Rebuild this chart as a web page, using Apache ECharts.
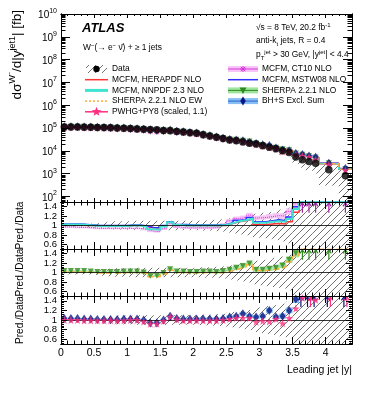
<!DOCTYPE html>
<html>
<head>
<meta charset="utf-8">
<script src="https://cdn.jsdelivr.net/npm/echarts@6/dist/echarts.min.js"></script>
<style>
html,body{margin:0;padding:0;background:#fff}
#main{width:374px;height:396px}
</style>
</head>
<body>
<div id="main"></div>
<script>
// leading jet |y| binning
const binEdges = [0,0.1,0.2,0.3,0.4,0.5,0.6,0.7,0.8,0.9,1.0,1.1,1.2,1.3,1.4,1.5,1.6,1.7,1.8,1.9,
  2.0,2.1,2.2,2.3,2.4,2.5,2.6,2.7,2.8,2.9,3.0,3.1,3.2,3.3,3.4,3.5,3.6,3.7,3.8,3.9,4.2,4.4];

// measured cross section [fb] and its relative total uncertainty
const dataVals = [1.12e5,1.12e5,1.11e5,1.10e5,1.08e5,1.07e5,1.05e5,1.04e5,1.01e5,9.8e4,
  9.5e4,9.2e4,8.9e4,8.7e4,8.4e4,7.9e4,7.6e4,7.1e4,6.7e4,6.3e4,
  5.9e4,5.1e4,4.5e4,4.0e4,3.5e4,3.0e4,2.8e4,2.45e4,2.15e4,2.0e4,
  1.7e4,1.45e4,1.25e4,1.02e4,8.5e3,5.4e3,4.1e3,3.4e3,2.9e3,1.5e3,
  8.1e2];
const dataErr = [0.04,0.04,0.04,0.04,0.04,0.05,0.07,0.08,0.09,0.09,
  0.09,0.1,0.1,0.1,0.1,0.1,0.1,0.1,0.1,0.1,
  0.1,0.11,0.11,0.12,0.13,0.15,0.17,0.19,0.21,0.25,
  0.27,0.29,0.31,0.34,0.38,0.5,0.55,0.6,0.65,0.8,
  1.2];

// Pred./Data ratios
const mcfmHera = [1.01,1.01,1.01,1.00,1.00,0.99,0.99,0.99,0.99,0.99,
  1.00,1.00,0.98,0.95,0.94,0.99,1.07,1.01,1.00,1.00,
  1.00,1.00,1.00,1.00,1.00,1.04,1.08,1.10,1.13,1.02,
  1.02,1.03,1.04,1.03,1.08,1.28,1.60,1.65,1.70,1.80,
  1.90];
const mcfmNnpdf = [1.02,1.02,1.02,1.01,1.00,0.99,0.99,0.99,0.99,0.99,
  1.00,1.00,0.97,0.92,0.91,0.98,1.07,1.01,1.00,1.00,
  1.00,1.00,1.00,1.00,1.01,1.05,1.09,1.11,1.15,1.06,
  1.06,1.08,1.09,1.08,1.14,1.35,1.62,1.68,1.72,1.85,
  1.95];
const mcfmCt10 = [0.97,0.97,0.96,0.96,0.95,0.94,0.94,0.94,0.94,0.94,
  0.94,0.94,0.92,0.88,0.87,0.93,1.04,0.97,0.95,0.95,
  0.95,0.95,0.95,0.96,1.02,1.10,1.15,1.17,1.22,1.16,
  1.17,1.19,1.21,1.20,1.30,1.46,1.75,1.80,1.85,2.00,
  2.10];
const mcfmMstw = [1.03,1.03,1.03,1.02,1.01,1.00,1.00,1.00,1.00,1.00,
  1.01,1.01,0.99,0.96,0.95,1.00,1.08,1.02,1.02,1.01,
  1.01,1.01,1.01,1.01,1.02,1.06,1.11,1.12,1.17,1.08,
  1.08,1.10,1.12,1.10,1.18,1.40,1.65,1.70,1.75,1.90,
  2.00];
const sherpaNlo = [1.03,1.03,1.03,1.03,1.02,1.01,1.01,1.01,1.01,1.02,
  1.02,1.02,1.00,0.93,0.93,0.99,1.07,1.02,1.02,1.01,
  1.01,1.02,1.02,1.01,1.03,1.06,1.10,1.14,1.19,1.06,
  1.06,1.08,1.10,1.15,1.27,1.41,1.65,1.70,1.75,1.90,
  2.00];
const sherpaEw = [1.01,1.01,1.01,1.01,1.00,0.99,0.99,0.99,0.99,1.00,
  1.00,1.00,0.98,0.91,0.91,0.97,1.05,1.00,1.00,0.99,
  0.99,1.00,1.00,0.99,1.01,1.04,1.08,1.12,1.17,1.04,
  1.04,1.06,1.08,1.12,1.23,1.36,1.60,1.65,1.70,1.85,
  1.95];
const bhsSum = [1.03,1.03,1.03,1.02,1.02,1.01,1.01,1.01,1.01,1.02,
  1.02,1.02,1.00,0.94,0.94,1.00,1.08,1.03,1.02,1.02,
  1.02,1.02,1.02,1.02,1.03,1.06,1.08,1.13,1.08,1.06,
  1.08,1.20,1.06,1.08,1.20,1.44,1.70,1.75,1.80,1.90,
  2.10];
const pwhgPy8 = [1.00,1.00,1.00,0.99,0.99,0.99,0.99,0.99,0.99,0.99,
  1.00,1.00,0.97,0.92,0.92,0.98,1.07,1.01,0.99,0.99,
  0.99,0.99,0.99,0.99,1.00,1.02,1.04,1.04,1.04,0.96,
  0.98,0.97,1.02,0.93,1.04,1.24,1.46,1.60,1.42,1.65,
  1.75];
// relative half width of the theory bands
const theoryUnc = [0.02,0.02,0.02,0.02,0.02,0.02,0.02,0.02,0.02,0.02,
  0.02,0.02,0.025,0.025,0.025,0.025,0.025,0.025,0.025,0.025,
  0.03,0.03,0.03,0.03,0.03,0.035,0.035,0.035,0.04,0.04,
  0.04,0.045,0.045,0.05,0.05,0.06,0.06,0.07,0.07,0.08,
  0.09];

const xMajor = [0,0.5,1,1.5,2,2.5,3,3.5,4];
const mainMajor = [2,3,4,5,6,7,8,9,10];
const ratioMajor = [0.6,0.8,1,1.2,1.4];
const ratioLabA = [0.6,1,1.4];
const ratioLabB = [0.8,1.2];

const FONT = '"Liberation Sans", Arial, Helvetica, sans-serif';
const mainMin = 1.76, mainMax = 10;
const rMin = 0.5, rMax = 1.5;
const lg = Math.log10;
const nBins = dataVals.length;
const xMid = [];
for (let i = 0; i < nBins; i++) xMid.push((binEdges[i] + binEdges[i + 1]) / 2);

// minor tick positions
const mainMinor = [];
for (let n = 1; n < 10; n++) for (let k = 2; k < 10; k++) {
  const v = n + lg(k);
  if (v > mainMin && v < mainMax) mainMinor.push(v);
}
const ratioMinor = [];
for (let v = 0.52; v < 1.49; v += 0.04) ratioMinor.push(Math.round(v * 100) / 100);

// hatch pattern for data uncertainty
const hatch = document.createElement('canvas');
hatch.width = 7; hatch.height = 7;
const hc = hatch.getContext('2d');
hc.strokeStyle = '#707070'; hc.lineWidth = 1;
hc.beginPath();
hc.moveTo(-1, 8); hc.lineTo(8, -1);
hc.moveTo(-1, 1); hc.lineTo(1, -1);
hc.moveTo(6, 8); hc.lineTo(8, 6);
hc.stroke();
const hatchFill = {image: hatch, repeat: 'repeat'};

const C = {
  red: '#ff3535', cyan: '#3fe3cf', orange: '#ffac3a', pink: '#ff2f80',
  mag: '#d936d9', magBand: '#f6c4f6', blue: '#2f2fff', green: '#2f8a1e',
  greenBand: '#9fe59f', navy: '#0a1780', blueBand: '#86bff3', arrowMag: '#a323a3'
};
const starPath = 'path://M0,-10L2.35,-3.24L9.51,-3.09L3.8,1.24L5.88,8.09L0,4L-5.88,8.09L-3.8,1.24L-9.51,-3.09L-2.35,-3.24Z';

// ---------- axes ----------
const grids = [
  {left: 61, right: 22, top: 14, height: 188},
  {left: 61, right: 22, top: 202, height: 47},
  {left: 61, right: 22, top: 249, height: 47},
  {left: 61, right: 22, top: 296, height: 48}
];
const tickStyle = {color: '#000', width: 1};
const xAxisList = [], yAxisList = [], axIdx = [];
const xTick = [[4, 2], [7, 3.5], [7, 3.5], [7, 3.5]];
const yTick = [[9, 4.5], [6, 3], [6, 3], [6, 3]];

function axBase(gi, pos, min, max, extra) {
  return Object.assign({type: 'value', gridIndex: gi, position: pos, min: min, max: max, z: 10,
    axisLine: {show: true, onZero: false, lineStyle: {color: '#000', width: 1}},
    splitLine: {show: false}, axisLabel: {show: false}}, extra);
}
function ratioLabel(vals) {
  return {show: true, customValues: vals, margin: 4, showMinLabel: true, showMaxLabel: true,
    fontSize: 9.5, fontFamily: FONT, color: '#000', formatter: v => String(v)};
}

for (let gi = 0; gi < 4; gi++) {
  axIdx[gi] = {x: xAxisList.length, y: yAxisList.length};
  ['bottom', 'top'].forEach(pos => {
    xAxisList.push(axBase(gi, pos, 0, 4.4, {interval: 0.1,
      axisTick: {show: true, inside: true, length: xTick[gi][1], lineStyle: tickStyle}}));
    const lab = (gi === 3 && pos === 'bottom') ? {show: true, customValues: xMajor, margin: 4,
      showMinLabel: true, showMaxLabel: true,
      fontSize: 10.5, fontFamily: FONT, color: '#000', formatter: v => String(v)} : {show: false};
    xAxisList.push(axBase(gi, pos, 0, 4.4, {
      axisTick: {show: true, inside: true, length: xTick[gi][0], customValues: xMajor, lineStyle: tickStyle},
      axisLabel: lab}));
  });
  const isMain = gi === 0;
  const ymin = isMain ? mainMin : rMin, ymax = isMain ? mainMax : rMax;
  const maj = isMain ? mainMajor : ratioMajor, mnr = isMain ? mainMinor : ratioMinor;
  ['left', 'right'].forEach(pos => {
    const left = pos === 'left';
    yAxisList.push(axBase(gi, pos, ymin, ymax, {
      axisTick: {show: true, inside: true, length: yTick[gi][1], customValues: mnr, lineStyle: tickStyle},
      axisLabel: (left && !isMain) ? ratioLabel(ratioLabB) : {show: false}}));
    let lab = {show: false};
    if (left) {
      lab = isMain ? {show: true, customValues: maj, margin: 4, showMinLabel: true, showMaxLabel: true,
        formatter: v => '{b|10}{e|' + Math.round(v) + '}',
        rich: {b: {fontSize: 10, fontFamily: FONT, color: '#000', lineHeight: 13, verticalAlign: 'bottom'},
               e: {fontSize: 7, fontFamily: FONT, color: '#000', lineHeight: 7, verticalAlign: 'top'}}}
        : ratioLabel(ratioLabA);
    }
    yAxisList.push(axBase(gi, pos, ymin, ymax, {
      axisTick: {show: true, inside: true, length: yTick[gi][0], customValues: maj, lineStyle: tickStyle},
      axisLabel: lab}));
  });
}

// ---------- series helpers ----------
function onGrid(g, s) {
  s.xAxisIndex = axIdx[g].x; s.yAxisIndex = axIdx[g].y; s.silent = true; s.animation = false;
  return s;
}
function boxSeries(g, rows, fill, z) {
  return onGrid(g, {type: 'custom', z: z, data: rows,
    renderItem: (params, api) => {
      const a = api.coord([api.value(0), api.value(3)]);
      const b = api.coord([api.value(1), api.value(2)]);
      const cs = params.coordSys;
      const r = echarts.graphic.clipRectByRect(
        {x: a[0], y: a[1], width: b[0] - a[0], height: b[1] - a[1]},
        {x: cs.x, y: cs.y, width: cs.width, height: cs.height});
      if (!r) return null;
      return {type: 'rect', shape: r, style: {fill: fill}};
    }});
}
function hatchRows(main) {
  return dataVals.map((d, i) => {
    const e = dataErr[i];
    if (main) {
      const lo = d * (1 - e);
      return [binEdges[i], binEdges[i + 1], lo > 0 ? Math.max(lg(lo), mainMin) : mainMin, lg(d * (1 + e))];
    }
    return [binEdges[i], binEdges[i + 1], 1 - e, 1 + e];
  });
}
function bandRows(ratio, main) {
  return ratio.map((r, i) => {
    const u = theoryUnc[i];
    if (main) {
      const p = dataVals[i] * r;
      return [binEdges[i], binEdges[i + 1], lg(p * (1 - u)), lg(p * (1 + u))];
    }
    return [binEdges[i], binEdges[i + 1], r - r * u, r + r * u];
  });
}
function stepSeries(g, ratio, main, color, width, dash, z) {
  const pts = [];
  ratio.forEach((r, i) => {
    const v = main ? lg(dataVals[i] * r) : Math.min(r, rMax - 0.005);
    pts.push([binEdges[i], v], [binEdges[i + 1], v]);
  });
  return onGrid(g, {type: 'line', data: pts, z: z, symbol: 'none', showSymbol: false,
    lineStyle: {color: color, width: width, type: dash || 'solid'}});
}
function markerSeries(g, ratio, main, symbol, size, color, z, rot) {
  const pts = [];
  ratio.forEach((r, i) => {
    if (main) pts.push([xMid[i], lg(dataVals[i] * r)]);
    else if (r <= rMax) pts.push([xMid[i], r]);
  });
  return onGrid(g, {type: 'scatter', data: pts, z: z, symbol: symbol, symbolSize: size,
    symbolRotate: rot || 0, itemStyle: {color: color}});
}
function arrowSeries(g, ratio, color, dx, z) {
  const pts = [];
  ratio.forEach((r, i) => { if (r > rMax) pts.push([xMid[i], r]); });
  return onGrid(g, {type: 'custom', z: z, data: pts,
    renderItem: (params, api) => {
      const x = api.value(0);
      const p0 = api.coord([x, 1.27]), p1 = api.coord([x, 1.48]);
      const px = p0[0] + dx;
      return {type: 'group', children: [
        {type: 'line', shape: {x1: px, y1: p0[1], x2: px, y2: p1[1]}, style: {stroke: color, lineWidth: 1.2}},
        {type: 'polyline', shape: {points: [[px - 2.5, p1[1] + 3.5], [px, p1[1]], [px + 2.5, p1[1] + 3.5]]},
         style: {stroke: color, lineWidth: 1.2, fill: null}}
      ]};
    }});
}
function unityLine(s) {
  s.markLine = {silent: true, symbol: 'none', label: {show: false}, animation: false,
    lineStyle: {color: '#000', width: 0.8, type: 'solid'}, data: [{yAxis: 1}]};
  return s;
}

const series = [];
// main panel
series.push(boxSeries(0, hatchRows(true), hatchFill, 1));
series.push(boxSeries(0, bandRows(bhsSum, true), C.blueBand, 2));
series.push(boxSeries(0, bandRows(mcfmCt10, true), C.magBand, 2));
series.push(boxSeries(0, bandRows(sherpaNlo, true), C.greenBand, 2));
series.push(stepSeries(0, mcfmCt10, true, C.mag, 1, null, 3));
series.push(stepSeries(0, mcfmHera, true, C.red, 1.2, null, 3));
series.push(stepSeries(0, mcfmMstw, true, C.blue, 1.2, null, 3));
series.push(stepSeries(0, mcfmNnpdf, true, C.cyan, 1.5, null, 3));
series.push(stepSeries(0, sherpaEw, true, C.orange, 1.2, 'dashed', 3));
series.push(markerSeries(0, sherpaNlo, true, 'triangle', 6, C.green, 4, 180));
series.push(markerSeries(0, bhsSum, true, 'diamond', [6, 9], C.navy, 4));
series.push(markerSeries(0, pwhgPy8, true, starPath, 8, C.pink, 5));
series.push(onGrid(0, {type: 'scatter', z: 6, symbol: 'circle', symbolSize: 7.5,
  itemStyle: {color: '#000'}, data: dataVals.map((d, i) => [xMid[i], lg(d)])}));

// ratio panel 1: MCFM
series.push(unityLine(boxSeries(1, hatchRows(false), hatchFill, 1)));
series.push(boxSeries(1, bandRows(mcfmCt10, false), C.magBand, 2));
series.push(stepSeries(1, mcfmCt10, false, C.mag, 1, 'dotted', 3));
series.push(stepSeries(1, mcfmHera, false, C.red, 1.5, null, 3));
series.push(stepSeries(1, mcfmMstw, false, C.blue, 1.5, null, 3));
series.push(stepSeries(1, mcfmNnpdf, false, C.cyan, 2, null, 3));
series.push(arrowSeries(1, mcfmCt10, C.arrowMag, 0, 4));

// ratio panel 2: SHERPA
series.push(unityLine(boxSeries(2, hatchRows(false), hatchFill, 1)));
series.push(boxSeries(2, bandRows(sherpaNlo, false), C.greenBand, 2));
series.push(stepSeries(2, sherpaEw, false, C.orange, 1.5, 'dashed', 3));
series.push(markerSeries(2, sherpaNlo, false, 'triangle', 6, C.green, 4, 180));
series.push(arrowSeries(2, sherpaNlo, C.green, 0, 4));

// ratio panel 3: BH+S and PWHG+PY8
series.push(unityLine(boxSeries(3, hatchRows(false), hatchFill, 1)));
series.push(boxSeries(3, bandRows(bhsSum, false), C.blueBand, 2));
series.push(markerSeries(3, bhsSum, false, 'diamond', [6, 9], C.navy, 4));
series.push(markerSeries(3, pwhgPy8, false, starPath, 8, C.pink, 5));
series.push(arrowSeries(3, bhsSum, C.navy, -1.5, 4));
series.push(arrowSeries(3, pwhgPy8, C.pink, 1.5, 4));

// ---------- text and legend ----------
const G = [];
const richSet = {
  n: {fontSize: 8.4, fontFamily: FONT, fill: '#000', lineHeight: 12},
  s: {fontSize: 6, fontFamily: FONT, fill: '#000', lineHeight: 6, verticalAlign: 'top'},
  d: {fontSize: 6, fontFamily: FONT, fill: '#000', lineHeight: 6, verticalAlign: 'bottom'}
};
function gText(x, y, text, extra) {
  G.push({type: 'text', x: x, y: y, silent: true, z: 20,
    style: Object.assign({text: text, fill: '#000', fontFamily: FONT, fontSize: 8.4,
      align: 'left', verticalAlign: 'middle', rich: richSet}, extra || {})});
}
function gLine(x1, y1, x2, y2, stroke, w, dash) {
  G.push({type: 'line', silent: true, z: 20, shape: {x1: x1, y1: y1, x2: x2, y2: y2},
    style: {stroke: stroke, lineWidth: w, lineDash: dash || null}});
}
function gRect(x, y, w, h, fill) {
  G.push({type: 'rect', silent: true, z: 20, shape: {x: x, y: y, width: w, height: h}, style: {fill: fill}});
}
function gPoly(points, fill) {
  G.push({type: 'polygon', silent: true, z: 21, shape: {points: points}, style: {fill: fill}});
}
function gStar(cx, cy, r, fill) {
  const pts = [];
  for (let k = 0; k < 10; k++) {
    const a = -Math.PI / 2 + k * Math.PI / 5, rr = k % 2 ? r * 0.42 : r;
    pts.push([cx + rr * Math.cos(a), cy + rr * Math.sin(a)]);
  }
  gPoly(pts, fill);
}

// axis titles
G.push({type: 'text', x: 17, y: 10, rotation: Math.PI / 2, silent: true, z: 20,
  style: {text: '{n|dσ}{s|W\u207B}{n|/d|y}{s|jet1}{n|| [fb]}', align: 'right', verticalAlign: 'middle',
    rich: {n: {fontSize: 13.5, fontFamily: FONT, fill: '#000', lineHeight: 17},
           s: {fontSize: 9, fontFamily: FONT, fill: '#000', lineHeight: 8, verticalAlign: 'top'}}}});
[225.5, 272.5, 320].forEach(cy => {
  G.push({type: 'text', x: 20, y: cy, rotation: Math.PI / 2, silent: true, z: 20,
    style: {text: 'Pred./Data', fontSize: 10, fontFamily: FONT, fill: '#000', align: 'center', verticalAlign: 'middle'}});
});
gText(352, 370, 'Leading jet |y|', {fontSize: 10.5, align: 'right'});

// labels inside the main panel
gText(82, 28, 'ATLAS', {fontSize: 13, fontWeight: 'bold', fontStyle: 'italic'});
gText(83, 48, '{n|W}{s|\u2212}{n|(\u2192 e}{s|\u2212}{n| \u03BD\u0304) + \u2265 1 jets}');
gText(256, 28, '{n|\u221As = 8 TeV, 20.2 fb}{s|-1}');
gText(256, 41, '{n|anti-k}{d|t}{n| jets, R = 0.4}');
gText(256, 55, '{n|p}{d|T}{s|jet}{n| > 30 GeV, |y}{s|jet}{n|| < 4.4}');

// legend, left column
const rowsL = [69, 79.7, 90.4, 101.1, 111.8];
gRect(86, rowsL[0] - 4, 21, 8, hatchFill);
G.push({type: 'circle', silent: true, z: 21, shape: {cx: 96.5, cy: rowsL[0], r: 3.2}, style: {fill: '#000'}});
gText(112, rowsL[0], 'Data');
gLine(85, rowsL[1], 108, rowsL[1], C.red, 1.5);
gText(112, rowsL[1], 'MCFM, HERAPDF NLO');
gLine(85, rowsL[2], 108, rowsL[2], C.cyan, 3);
gText(112, rowsL[2], 'MCFM, NNPDF 2.3 NLO');
gLine(85, rowsL[3], 108, rowsL[3], C.orange, 1.5, [2, 2]);
gText(112, rowsL[3], 'SHERPA 2.2.1 NLO EW');
gLine(85, rowsL[4], 108, rowsL[4], C.pink, 1.5);
gStar(96.5, rowsL[4], 5, C.pink);
gText(112, rowsL[4], 'PWHG+PY8 (scaled, 1.1)');

// legend, right column
const rowsR = [69, 79.7, 90.4, 101.1];
const sx0 = 228, sx1 = 258, scx = 243;
gRect(sx0, rowsR[0] - 3, 30, 6, C.magBand);
gLine(sx0, rowsR[0], sx1, rowsR[0], C.mag, 1);
gLine(scx - 3, rowsR[0], scx + 3, rowsR[0], C.mag, 1);
gLine(scx, rowsR[0] - 3, scx, rowsR[0] + 3, C.mag, 1);
gLine(scx - 2.2, rowsR[0] - 2.2, scx + 2.2, rowsR[0] + 2.2, C.mag, 1);
gLine(scx - 2.2, rowsR[0] + 2.2, scx + 2.2, rowsR[0] - 2.2, C.mag, 1);
gText(262, rowsR[0], 'MCFM, CT10 NLO');
gLine(sx0, rowsR[1], sx1, rowsR[1], C.blue, 1.5);
gText(262, rowsR[1], 'MCFM, MSTW08 NLO');
gRect(sx0, rowsR[2] - 3, 30, 6, C.greenBand);
gLine(sx0, rowsR[2], sx1, rowsR[2], C.green, 1);
gPoly([[scx - 3.5, rowsR[2] - 3], [scx + 3.5, rowsR[2] - 3], [scx, rowsR[2] + 3.5]], C.green);
gText(262, rowsR[2], 'SHERPA 2.2.1 NLO');
gRect(sx0, rowsR[3] - 3, 30, 6, C.blueBand);
gLine(sx0, rowsR[3], sx1, rowsR[3], '#2f5fd0', 1);
gPoly([[scx, rowsR[3] - 4.5], [scx + 2.8, rowsR[3]], [scx, rowsR[3] + 4.5], [scx - 2.8, rowsR[3]]], C.navy);
gText(262, rowsR[3], 'BH+S Excl. Sum');

const chart = echarts.init(document.getElementById('main'), null, {renderer: 'canvas'});
chart.setOption({
  animation: false,
  backgroundColor: '#fff',
  grid: grids,
  xAxis: xAxisList,
  yAxis: yAxisList,
  series: series,
  graphic: G
});
</script>
</body>
</html>
